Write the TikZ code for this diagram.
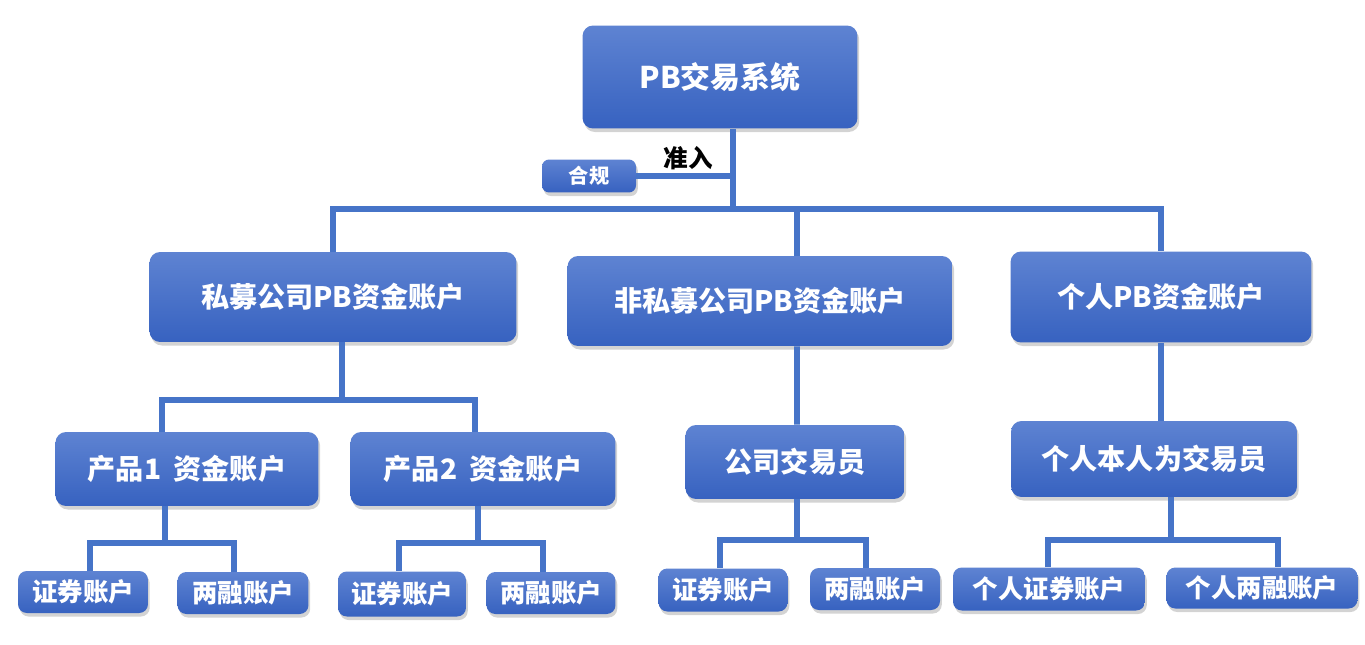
\documentclass[tikz,border=0pt]{standalone}
\usepackage{fontspec}
\setmainfont{Noto Sans CJK SC}
\usetikzlibrary{shadows}

\definecolor{boxtop}{HTML}{5E83D2}
\definecolor{boxbot}{HTML}{3762C0}
\definecolor{linkblue}{HTML}{4674C8}

\begin{document}
\begin{tikzpicture}[
  x=0.02cm, y=-0.02cm,
  box/.style={rounded corners=6pt, top color=boxtop, bottom color=boxbot,
    text=white, font=\bfseries, inner sep=0pt,
    drop shadow={shadow xshift=1pt, shadow yshift=-2pt, opacity=0.35}},
  link/.style={draw=linkblue, line width=3.2pt},
  lbl/.style={font=\bfseries\fontsize{14}{16}\selectfont, text=black}
]
\useasboundingbox (0,0) rectangle (1365,645);

%% ── Junction points of the connector buses ──────────────────────────────────
\coordinate (hub) at (733,209);
\coordinate (jA)  at (342,400);
\coordinate (jB)  at (165,543);
\coordinate (jC)  at (478,543);
\coordinate (jD)  at (797,540);
\coordinate (jE)  at (1171,540);

%% ── Top band ────────────────────────────────────────────────────────────────

\node[box, minimum width=5.5cm, minimum height=2.06cm,
  font=\bfseries\fontsize{17}{20}\selectfont] (sys) at (720,77) {PB交易系统};

\node[box, minimum width=1.88cm, minimum height=0.66cm, rounded corners=4pt,
  font=\bfseries\fontsize{11.5}{14}\selectfont] (comp) at (589,176) {合规};

% ── Fund accounts (second band) ─────────────────────────────────────────────

\node[box, minimum width=7.34cm, minimum height=1.8cm,
  font=\bfseries\fontsize{16}{19}\selectfont] (priv) at (333,297) {私募公司PB资金账户};
\node[box, minimum width=7.7cm, minimum height=1.8cm,
  font=\bfseries\fontsize{16}{19}\selectfont] (npriv) at (760,301) {非私募公司PB资金账户};
\node[box, minimum width=6.02cm, minimum height=1.82cm,
  font=\bfseries\fontsize{16}{19}\selectfont] (indiv) at (1161,297) {个人PB资金账户};

% ── Products and traders (third band) ───────────────────────────────────────

\node[box, minimum width=5.26cm, minimum height=1.48cm,
  font=\bfseries\fontsize{16}{19}\selectfont] (prodA) at (187,469) {产品1\hspace{0.45em}资金账户};
\node[box, minimum width=5.3cm, minimum height=1.48cm,
  font=\bfseries\fontsize{16}{19}\selectfont] (prodB) at (483,469) {产品2\hspace{0.45em}资金账户};
\node[box, minimum width=4.38cm, minimum height=1.48cm,
  font=\bfseries\fontsize{16}{19}\selectfont] (corpT) at (795,462) {公司交易员};
\node[box, minimum width=5.72cm, minimum height=1.52cm,
  font=\bfseries\fontsize{16}{19}\selectfont] (selfT) at (1154,459) {个人本人为交易员};

% ── Sub-accounts (bottom band) ──────────────────────────────────────────────

\node[box, minimum width=2.6cm, minimum height=0.84cm, rounded corners=5pt,
  font=\bfseries\fontsize{14.5}{17}\selectfont] (secA) at (83,592) {证券账户};
\node[box, minimum width=2.62cm, minimum height=0.84cm, rounded corners=5pt,
  font=\bfseries\fontsize{14.5}{17}\selectfont] (mrgA) at (243,593) {两融账户};
\node[box, minimum width=2.56cm, minimum height=0.9cm, rounded corners=5pt,
  font=\bfseries\fontsize{14.5}{17}\selectfont] (secB) at (402,594) {证券账户};
\node[box, minimum width=2.58cm, minimum height=0.84cm, rounded corners=5pt,
  font=\bfseries\fontsize{14.5}{17}\selectfont] (mrgB) at (551,593) {两融账户};
\node[box, minimum width=2.58cm, minimum height=0.86cm, rounded corners=5pt,
  font=\bfseries\fontsize{14.5}{17}\selectfont] (secC) at (723,590) {证券账户};
\node[box, minimum width=2.6cm, minimum height=0.84cm, rounded corners=5pt,
  font=\bfseries\fontsize{14.5}{17}\selectfont] (mrgC) at (875,589) {两融账户};
\node[box, minimum width=3.84cm, minimum height=0.86cm, rounded corners=5pt,
  font=\bfseries\fontsize{14.5}{17}\selectfont] (secD) at (1049,589) {个人证券账户};
\node[box, minimum width=3.82cm, minimum height=0.82cm, rounded corners=5pt,
  font=\bfseries\fontsize{14.5}{17}\selectfont] (mrgD) at (1262,588) {个人两融账户};

%% ── Links ───────────────────────────────────────────────────────────────────

% System -> fund accounts, compliance gate
\draw[link] (sys.south -| hub) -- (hub);
\draw[link] (comp.east) -- (comp.east -| hub);
\node[lbl] (gate) at (688,158) {准入};
\draw[link] (priv.north) |- (hub) -| (indiv.north);
\draw[link] ([xshift=0.74cm]npriv.north |- hub) -- ([xshift=0.74cm]npriv.north);

% Private fund -> products
\draw[link] (priv.south -| jA) -- (jA);
\draw[link] ([xshift=-0.5cm]prodA.north) |- (jA) -| ([xshift=-0.16cm]prodB.north);

% Non-private -> corporate trader, individual -> self trader
\draw[link] ([xshift=0.74cm]npriv.south) -- (corpT.north -| jD);
\draw[link] (indiv.south) -- (indiv.south |- selfT.north);

% Products / traders -> sub-accounts
\draw[link] (prodA.south -| jB) -- (jB);
\draw[link] ([xshift=0.14cm]secA.north) |- (jB) -| ([xshift=-0.18cm]mrgA.north);
\draw[link] (prodB.south -| jC) -- (jC);
\draw[link] ([xshift=-0.06cm]secB.north) |- (jC) -| ([xshift=-0.16cm]mrgB.north);
\draw[link] (corpT.south -| jD) -- (jD);
\draw[link] ([xshift=-0.06cm]secC.north) |- (jD) -| ([xshift=-0.18cm]mrgC.north);
\draw[link] (selfT.south -| jE) -- (jE);
\draw[link] ([xshift=-0.02cm]secD.north) |- (jE) -| ([xshift=0.32cm]mrgD.north);

\end{tikzpicture}
\end{document}
